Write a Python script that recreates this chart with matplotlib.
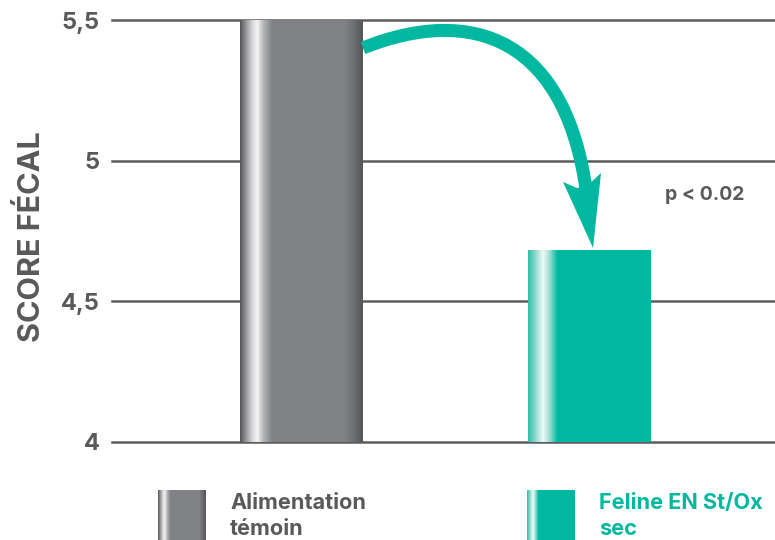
import matplotlib
matplotlib.use("Agg")
import matplotlib.pyplot as plt
import numpy as np
from matplotlib.colors import LinearSegmentedColormap
from matplotlib.path import Path
from matplotlib.patches import PathPatch, Polygon

# ---- data ----
categories = ["Alimentation\ntémoin", "Feline EN St/Ox\nsec"]
values = [5.5, 4.68]
yticks = [4, 4.5, 5, 5.5]
ytick_labels = ["4", "4,5", "5", "5,5"]
ylabel = "SCORE FÉCAL"
pvalue_text = "p < 0.02"

GRAY_TXT = "#58595b"
TEAL = "#00b8a0"
GRID = "#5c5c5e"

plt.rcParams['font.family'] = ['Inter', 'DejaVu Sans']

gray_cmap = LinearSegmentedColormap.from_list("g", [
    (0.0, "#555558"), (0.04, "#8c8c8f"), (0.10, "#d8d8da"), (0.14, "#f5f5f5"),
    (0.19, "#b5b5b7"), (0.26, "#818285"), (0.86, "#808184"), (0.93, "#6d6e71"),
    (1.0, "#545557")])
teal_cmap = LinearSegmentedColormap.from_list("t", [
    (0.0, "#2ebfa9"), (0.06, "#8fd9cd"), (0.12, "#f2faf8"), (0.17, "#a5e1d7"),
    (0.24, TEAL), (1.0, TEAL)])
cmaps = [gray_cmap, teal_cmap]
grad = np.linspace(0, 1, 256).reshape(1, -1)

fig = plt.figure(figsize=(7.75, 5.4), dpi=100)
ax = fig.add_axes([112/775, 98/540, 663/775, 422/540])

x = np.arange(len(values))
width = 0.427
bars = ax.bar(x, np.array(values) - 4, bottom=4, width=width, color="none", zorder=3)
for rect, cm in zip(bars, cmaps):
    x0, y0 = rect.get_x(), rect.get_y()
    ax.imshow(grad, cmap=cm, aspect="auto", extent=[x0, x0 + rect.get_width(), y0, y0 + rect.get_height()],
              zorder=3, interpolation="bilinear")

xlim = (-0.658, 1.644)
ax.set_xlim(*xlim)
ax.set_ylim(4, 5.5)
for yv in yticks:
    ax.axhline(yv, color=GRID, lw=1.8, zorder=2, clip_on=False)

ax.set_yticks(yticks)
ax.set_yticklabels(ytick_labels)
ax.tick_params(axis="y", length=0, pad=9, labelsize=17, labelcolor=GRAY_TXT)
for t in ax.get_yticklabels():
    t.set_fontweight("bold")
ax.set_xticks([])
for s in ax.spines.values():
    s.set_visible(False)

fig.text(32/775, 1 - 237/540, ylabel, rotation=90, ha="center", va="center",
         fontsize=22, fontweight="bold", color=GRAY_TXT)

# ---- curved arrow from bar 0 to bar 1 ----
sx = x[0] + width / 2
tx, ty = x[1], values[1]
verts = [(sx, values[0] - 0.0995), (0.585, 5.5533), (0.9323, 5.4467), (tx - 0.0052, ty + 0.1624)]
path = Path(verts, [Path.MOVETO, Path.CURVE4, Path.CURVE4, Path.CURVE4])
ax.add_patch(PathPatch(path, facecolor="none", edgecolor=TEAL, lw=9.4, capstyle="butt",
                       zorder=5, clip_on=False))
head = [(tx - 0.092, ty + 0.2442), (tx - 0.0434, ty + 0.2228), (tx - 0.0087, ty + 0.230),
        (tx + 0.0399, ty + 0.2762), (tx + 0.0122, ty + 0.0096)]
ax.add_patch(Polygon(head, closed=True, facecolor=TEAL, edgecolor="none", zorder=6, clip_on=False))

fig.text(705/775, 1 - 195/540, pvalue_text, ha="center", va="center", fontsize=14,
         fontweight="bold", color=GRAY_TXT)

# ---- legend ----
leg_x = [158, 527]
text_colors = [GRAY_TXT, TEAL]
for lx, cm, lab, tc in zip(leg_x, cmaps, categories, text_colors):
    lax = fig.add_axes([lx/775, 0, 48/775, 50/540])
    lax.imshow(grad, cmap=cm, aspect="auto", extent=[0, 1, 0, 1], interpolation="bilinear")
    lax.axis("off")
    fig.text((lx + 72)/775, 1 - 516/540, lab, ha="left", va="center", fontsize=15.6,
             fontweight="bold", color=tc, linespacing=1.4)

fig.savefig("out.png", dpi=100)
